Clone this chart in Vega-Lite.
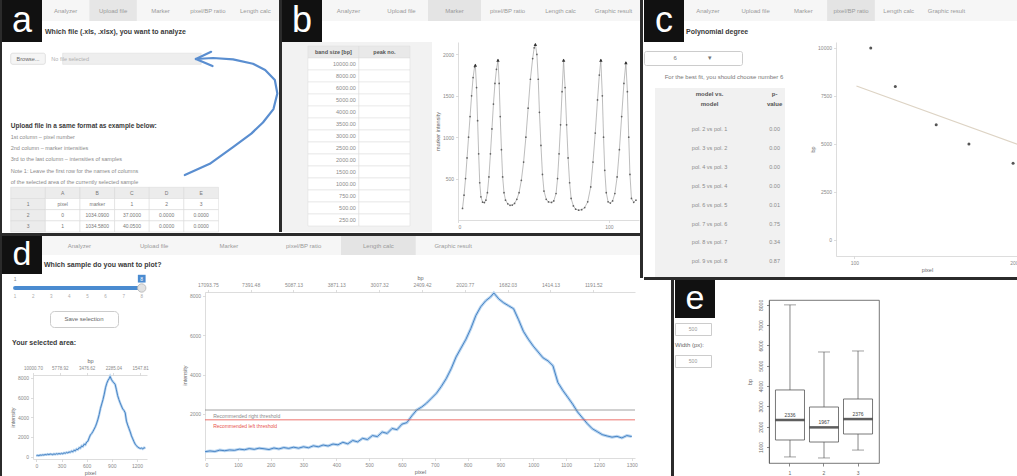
{
  "$schema": "https://vega.github.io/schema/vega-lite/v6.json",
  "background": "white",
  "padding": 0,
  "spacing": 0,
  "config": {
    "font": "Liberation Sans",
    "view": {"stroke": null},
    "concat": {"spacing": 0},
    "axis": {
      "labelFont": "Liberation Sans", "labelFontSize": 5, "labelColor": "#8a8a8a",
      "titleFont": "Liberation Sans", "titleFontSize": 5.5, "titleFontWeight": "normal", "titleColor": "#666666",
      "domainColor": "#cfcfcf", "tickColor": "#cfcfcf", "domainWidth": 0.7, "tickWidth": 0.7,
      "tickSize": 2.5, "labelPadding": 2, "titlePadding": 2, "grid": false, "labelOverlap": false
    },
    "text": {"font": "Liberation Sans"}
  },
  "datasets": {
    "tabs": [
      {"tab": "Analyzer", "i": 1}, {"tab": "Upload file", "i": 2}, {"tab": "Marker", "i": 3},
      {"tab": "pixel/BP ratio", "i": 4}, {"tab": "Length calc", "i": 5}, {"tab": "Graphic result", "i": 6}
    ],
    "uploadNotes": [
      {"row": 7, "kind": "head", "line": "Upload file in a same format as example below:"},
      {"row": 8, "kind": "body", "line": "1st column – pixel number"},
      {"row": 9, "kind": "body", "line": "2nd column – marker intensities"},
      {"row": 10, "kind": "body", "line": "3rd to the last column – intensities of samples"},
      {"row": 11, "kind": "body", "line": "Note 1: Leave the first row for the names of columns"},
      {"row": 12, "kind": "body", "line": "of the selected area of the currently selected sample"}
    ],
    "uploadTable": [
      {"row": 13, "n": "", "A": "A", "B": "B", "C": "C", "D": "D", "E": "E"},
      {"row": 14, "n": "1", "A": "pixel", "B": "marker", "C": "1", "D": "2", "E": "3"},
      {"row": 15, "n": "2", "A": "0", "B": "1034.0900", "C": "37.0000", "D": "0.0000", "E": "0.0000"},
      {"row": 16, "n": "3", "A": "1", "B": "1034.5800", "C": "40.0500", "D": "0.0000", "E": "0.0000"}
    ],
    "arrow": [
      {"seg": "curve", "k": 0, "u": 6.6, "v": 11.9}, {"seg": "curve", "k": 1, "u": 7.5, "v": 10.9},
      {"seg": "curve", "k": 2, "u": 8.34, "v": 9.4}, {"seg": "curve", "k": 3, "u": 9.0, "v": 8.2},
      {"seg": "curve", "k": 4, "u": 9.42, "v": 7.2}, {"seg": "curve", "k": 5, "u": 9.8, "v": 6.0},
      {"seg": "curve", "k": 6, "u": 9.94, "v": 4.6}, {"seg": "curve", "k": 7, "u": 9.85, "v": 3.4},
      {"seg": "curve", "k": 8, "u": 9.5, "v": 2.5}, {"seg": "curve", "k": 9, "u": 9.06, "v": 1.95},
      {"seg": "curve", "k": 10, "u": 8.34, "v": 1.55}, {"seg": "curve", "k": 11, "u": 7.62, "v": 1.43},
      {"seg": "curve", "k": 12, "u": 7.0, "v": 1.52},
      {"seg": "head1", "k": 0, "u": 7.0, "v": 1.52}, {"seg": "head1", "k": 1, "u": 7.55, "v": 0.88},
      {"seg": "head2", "k": 0, "u": 7.0, "v": 1.52}, {"seg": "head2", "k": 1, "u": 7.6, "v": 2.15}
    ],
    "ladder": [
      {"row": 0, "size": "band size [bp]", "peak": "peak no."},
      {"row": 1, "size": "10000.00", "peak": ""}, {"row": 2, "size": "8000.00", "peak": ""},
      {"row": 3, "size": "6000.00", "peak": ""}, {"row": 4, "size": "5000.00", "peak": ""},
      {"row": 5, "size": "4000.00", "peak": ""}, {"row": 6, "size": "3500.00", "peak": ""},
      {"row": 7, "size": "3000.00", "peak": ""}, {"row": 8, "size": "2500.00", "peak": ""},
      {"row": 9, "size": "2000.00", "peak": ""}, {"row": 10, "size": "1500.00", "peak": ""},
      {"row": 11, "size": "1000.00", "peak": ""}, {"row": 12, "size": "750.00", "peak": ""},
      {"row": 13, "size": "500.00", "peak": ""}, {"row": 14, "size": "250.00", "peak": ""}
    ],
    "markerTrace": [
      {"x": 3, "y": 140}, {"x": 4, "y": 300}, {"x": 5, "y": 500}, {"x": 6, "y": 750}, {"x": 7, "y": 1000},
      {"x": 8, "y": 1250}, {"x": 9, "y": 1500}, {"x": 10, "y": 1720}, {"x": 11, "y": 1850}, {"x": 11.5, "y": 1870},
      {"x": 12.3, "y": 1600}, {"x": 13, "y": 1200}, {"x": 13.7, "y": 800}, {"x": 14.4, "y": 450}, {"x": 15.2, "y": 280},
      {"x": 16.3, "y": 215}, {"x": 17.5, "y": 210}, {"x": 18.5, "y": 240}, {"x": 19.5, "y": 330}, {"x": 20.5, "y": 520},
      {"x": 21.5, "y": 800}, {"x": 22.5, "y": 1100}, {"x": 23.5, "y": 1400}, {"x": 24.5, "y": 1650}, {"x": 25.5, "y": 1820},
      {"x": 26.5, "y": 1930}, {"x": 27.3, "y": 1650}, {"x": 28, "y": 1250}, {"x": 28.8, "y": 850}, {"x": 29.6, "y": 520},
      {"x": 30.5, "y": 330}, {"x": 31.5, "y": 240}, {"x": 33, "y": 195}, {"x": 34.5, "y": 178}, {"x": 36, "y": 180},
      {"x": 37.5, "y": 200}, {"x": 39, "y": 250}, {"x": 40.5, "y": 330}, {"x": 42, "y": 480}, {"x": 43.5, "y": 700},
      {"x": 45, "y": 1000}, {"x": 46.5, "y": 1350}, {"x": 48, "y": 1700}, {"x": 49.5, "y": 1950}, {"x": 50.5, "y": 2080},
      {"x": 51.3, "y": 2120}, {"x": 52.3, "y": 2000}, {"x": 53.2, "y": 1700}, {"x": 54, "y": 1300}, {"x": 55, "y": 900},
      {"x": 56, "y": 550}, {"x": 57, "y": 350}, {"x": 58.5, "y": 250}, {"x": 60, "y": 218}, {"x": 62, "y": 212},
      {"x": 63.5, "y": 230}, {"x": 65, "y": 320}, {"x": 66, "y": 500}, {"x": 67, "y": 800}, {"x": 68, "y": 1150},
      {"x": 69, "y": 1550}, {"x": 70, "y": 1930}, {"x": 71, "y": 1600}, {"x": 72, "y": 1150}, {"x": 73, "y": 750},
      {"x": 74, "y": 450}, {"x": 75, "y": 260}, {"x": 76.5, "y": 170}, {"x": 78, "y": 130}, {"x": 80, "y": 118},
      {"x": 82, "y": 125}, {"x": 84, "y": 150}, {"x": 86, "y": 220}, {"x": 88, "y": 400}, {"x": 89.5, "y": 700},
      {"x": 91, "y": 1050}, {"x": 92.5, "y": 1450}, {"x": 93.7, "y": 1750}, {"x": 94.7, "y": 1930}, {"x": 95.7, "y": 1500},
      {"x": 96.5, "y": 1000}, {"x": 97.3, "y": 600}, {"x": 98.3, "y": 330}, {"x": 99.5, "y": 220}, {"x": 101, "y": 205},
      {"x": 102.5, "y": 230}, {"x": 104, "y": 320}, {"x": 105.5, "y": 520}, {"x": 107, "y": 850}, {"x": 108.5, "y": 1250},
      {"x": 110, "y": 1650}, {"x": 111.3, "y": 1900}, {"x": 112.3, "y": 1550}, {"x": 113.2, "y": 1000}, {"x": 114, "y": 550},
      {"x": 115, "y": 260}, {"x": 116.5, "y": 214}, {"x": 118, "y": 240}
    ],
    "peaksB": [
      {"x": 11.5, "y": 1870}, {"x": 26.5, "y": 1930}, {"x": 51.3, "y": 2120},
      {"x": 70, "y": 1930}, {"x": 94.7, "y": 1930}, {"x": 111.3, "y": 1900}
    ],
    "pvalues": [
      {"row": 0, "model": "model vs.\nmodel", "p": "p-\nvalue"},
      {"row": 2, "model": "pol. 2 vs pol. 1", "p": "0.00"},
      {"row": 3, "model": "pol. 3 vs pol. 2", "p": "0.00"},
      {"row": 4, "model": "pol. 4 vs pol. 3", "p": "0.00"},
      {"row": 5, "model": "pol. 5 vs pol. 4", "p": "0.00"},
      {"row": 6, "model": "pol. 6 vs pol. 5", "p": "0.01"},
      {"row": 7, "model": "pol. 7 vs pol. 6", "p": "0.75"},
      {"row": 8, "model": "pol. 8 vs pol. 7", "p": "0.34"},
      {"row": 9, "model": "pol. 9 vs pol. 8", "p": "0.87"}
    ],
    "calib": [
      {"pixel": 110, "bp": 10000}, {"pixel": 125, "bp": 8000}, {"pixel": 150, "bp": 6000},
      {"pixel": 170, "bp": 5000}, {"pixel": 197, "bp": 4000}
    ],
    "fit": [{"pixel": 101.25, "bp": 8020}, {"pixel": 200, "bp": 4973}],
    "profile": [
      {"pixel": 0, "intensity": 80}, {"pixel": 15, "intensity": 120}, {"pixel": 30, "intensity": 90},
      {"pixel": 45, "intensity": 160}, {"pixel": 60, "intensity": 130}, {"pixel": 75, "intensity": 170},
      {"pixel": 90, "intensity": 150}, {"pixel": 105, "intensity": 210}, {"pixel": 120, "intensity": 180},
      {"pixel": 135, "intensity": 240}, {"pixel": 150, "intensity": 200}, {"pixel": 165, "intensity": 260},
      {"pixel": 180, "intensity": 230}, {"pixel": 195, "intensity": 190}, {"pixel": 210, "intensity": 270},
      {"pixel": 225, "intensity": 220}, {"pixel": 240, "intensity": 290}, {"pixel": 255, "intensity": 250},
      {"pixel": 270, "intensity": 310}, {"pixel": 285, "intensity": 260}, {"pixel": 300, "intensity": 330},
      {"pixel": 315, "intensity": 280}, {"pixel": 330, "intensity": 380}, {"pixel": 345, "intensity": 330},
      {"pixel": 360, "intensity": 420}, {"pixel": 375, "intensity": 370}, {"pixel": 390, "intensity": 470},
      {"pixel": 405, "intensity": 430}, {"pixel": 420, "intensity": 560}, {"pixel": 435, "intensity": 480},
      {"pixel": 450, "intensity": 650}, {"pixel": 465, "intensity": 580}, {"pixel": 480, "intensity": 760},
      {"pixel": 495, "intensity": 700}, {"pixel": 510, "intensity": 900}, {"pixel": 525, "intensity": 850},
      {"pixel": 540, "intensity": 1080}, {"pixel": 555, "intensity": 1010}, {"pixel": 570, "intensity": 1260},
      {"pixel": 585, "intensity": 1200}, {"pixel": 600, "intensity": 1480}, {"pixel": 615, "intensity": 1560},
      {"pixel": 630, "intensity": 1900}, {"pixel": 645, "intensity": 2200}, {"pixel": 660, "intensity": 2350},
      {"pixel": 675, "intensity": 2550}, {"pixel": 690, "intensity": 2800}, {"pixel": 705, "intensity": 3050},
      {"pixel": 720, "intensity": 3400}, {"pixel": 735, "intensity": 3800}, {"pixel": 750, "intensity": 4300},
      {"pixel": 765, "intensity": 4900}, {"pixel": 780, "intensity": 5350}, {"pixel": 795, "intensity": 5800},
      {"pixel": 810, "intensity": 6350}, {"pixel": 825, "intensity": 7000}, {"pixel": 840, "intensity": 7450},
      {"pixel": 855, "intensity": 7750}, {"pixel": 870, "intensity": 7950}, {"pixel": 880, "intensity": 8150},
      {"pixel": 895, "intensity": 7850}, {"pixel": 910, "intensity": 7650}, {"pixel": 925, "intensity": 7500},
      {"pixel": 940, "intensity": 7350}, {"pixel": 955, "intensity": 6800}, {"pixel": 970, "intensity": 6200},
      {"pixel": 985, "intensity": 5800}, {"pixel": 1000, "intensity": 5450}, {"pixel": 1015, "intensity": 5150},
      {"pixel": 1030, "intensity": 4850}, {"pixel": 1045, "intensity": 4700}, {"pixel": 1060, "intensity": 4450},
      {"pixel": 1075, "intensity": 3600}, {"pixel": 1090, "intensity": 3200}, {"pixel": 1105, "intensity": 2850},
      {"pixel": 1120, "intensity": 2500}, {"pixel": 1135, "intensity": 2100}, {"pixel": 1150, "intensity": 1800},
      {"pixel": 1165, "intensity": 1500}, {"pixel": 1180, "intensity": 1250}, {"pixel": 1195, "intensity": 1100},
      {"pixel": 1210, "intensity": 950}, {"pixel": 1225, "intensity": 880}, {"pixel": 1240, "intensity": 820},
      {"pixel": 1255, "intensity": 860}, {"pixel": 1270, "intensity": 780}, {"pixel": 1285, "intensity": 900},
      {"pixel": 1300, "intensity": 850}
    ],
    "thresholds": [
      {"side": "right", "value": 2200, "label": "Recommended right threshold"},
      {"side": "left", "value": 1700, "label": "Recommended left threshold"}
    ],
    "bpTop": [
      {"bp": "17093.75"}, {"bp": "7391.48"}, {"bp": "5087.13"}, {"bp": "3871.13"}, {"bp": "3007.32"},
      {"bp": "2409.42"}, {"bp": "2020.77"}, {"bp": "1682.03"}, {"bp": "1414.13"}, {"bp": "1191.52"}
    ],
    "bpTopSmall": [
      {"bp": "10000.70"}, {"bp": "5778.92"}, {"bp": "3476.62"}, {"bp": "2285.04"}, {"bp": "1547.81"}
    ],
    "slider": [{"min": 1, "max": 8, "value": 8}],
    "samples": [
      {"sample": 1}, {"sample": 2}, {"sample": 3}, {"sample": 4},
      {"sample": 5}, {"sample": 6}, {"sample": 7}, {"sample": 8}
    ],
    "boxes": [
      {"group": "1", "min": 510, "q1": 1345, "median": 2336, "q3": 3810, "max": 8000},
      {"group": "2", "min": 460, "q1": 1245, "median": 1967, "q3": 2970, "max": 5680},
      {"group": "3", "min": 850, "q1": 1640, "median": 2376, "q3": 3365, "max": 5730}
    ]
  },
  "hconcat": [
    {"width": 2, "height": 476, "view": {"fill": "#2b2b2b", "stroke": null}, "data": {"values": []}, "mark": "point"},
    {
      "vconcat": [
        {
          "hconcat": [
            {
              "vconcat": [
                {
                  "hconcat": [
                    {"width": 40, "height": 42, "view": {"fill": "#111111", "stroke": null}, "data": {"values": [{"panel": "a"}]},
                     "mark": {"type": "text", "fontSize": 36, "fill": "white", "baseline": "middle"}, "encoding": {"text": {"field": "panel"}}},
                    {
                      "width": 237, "height": 42,
                      "layer": [
                        {"data": {"values": [{"bar": "tabs"}]}, "mark": {"type": "rect", "fill": "#f6f6f6"},
                         "encoding": {"y": {"field": "bar", "type": "nominal", "scale": {"domain": ["tabs", "title"], "paddingInner": 0, "paddingOuter": 0}, "axis": null}}},
                        {"data": {"name": "tabs"}, "transform": [{"filter": "datum.tab == 'Upload file'"}], "mark": {"type": "rect", "fill": "#e6e6e6"},
                         "encoding": {"x": {"field": "tab", "type": "nominal", "scale": {"domain": ["Analyzer", "Upload file", "Marker", "pixel/BP ratio", "Length calc"], "paddingInner": 0, "paddingOuter": 0}, "axis": null},
                                      "y": {"datum": "tabs", "type": "nominal"}}},
                        {"data": {"name": "tabs"}, "transform": [{"filter": "datum.i <= 5"}], "mark": {"type": "text", "fontSize": 6, "fill": "#9a9a9a"},
                         "encoding": {"x": {"field": "tab", "type": "nominal"}, "y": {"datum": "tabs", "type": "nominal"}, "text": {"field": "tab"}}},
                        {"data": {"values": [{"title": "Which file (.xls, .xlsx), you want to analyze"}]},
                         "mark": {"type": "text", "align": "left", "fontSize": 7, "fontWeight": "bold", "fill": "#3a3a3a", "dx": 3},
                         "encoding": {"x": {"datum": "Analyzer", "type": "nominal", "bandPosition": 0}, "y": {"datum": "title", "type": "nominal"}, "text": {"field": "title"}}}
                      ]
                    }
                  ],
                  "spacing": 0
                },
                {
                  "width": 277, "height": 190,
                  "layer": [
                    {
                      "layer": [
                        {"data": {"values": [{"label": "Browse..."}]}, "mark": {"type": "rect", "fill": "#f5f5f5", "stroke": "#cfcfcf", "strokeWidth": 0.6, "cornerRadius": 2},
                         "encoding": {"x": {"datum": "n", "type": "nominal", "scale": {"domain": ["n", "A", "B", "C", "D", "E"], "paddingInner": 0, "paddingOuter": 1.78, "align": 0.126}, "axis": null},
                                      "y": {"datum": 1, "type": "ordinal", "scale": {"domain": [0, 1, 2, 3, 4, 5, 6, 7, 8, 9, 10, 11, 12, 13, 14, 15, 16], "paddingInner": 0, "paddingOuter": 0}, "axis": null}}},
                        {"data": {"values": [{"label": "Browse..."}]}, "mark": {"type": "text", "fontSize": 5.5, "fill": "#666666"},
                         "encoding": {"x": {"datum": "n", "type": "nominal"}, "y": {"datum": 1, "type": "ordinal"}, "text": {"field": "label"}}},
                        {"data": {"values": [{"label": "No file selected"}]}, "mark": {"type": "rect", "fill": "#eeeeee", "stroke": "#dddddd", "strokeWidth": 0.6},
                         "encoding": {"x": {"datum": "A", "type": "nominal"}, "x2": {"datum": "E"}, "y": {"datum": 1, "type": "ordinal"}}},
                        {"data": {"values": [{"label": "No file selected"}]}, "mark": {"type": "text", "align": "left", "fontSize": 5.5, "fill": "#b0b0b0", "dx": 6},
                         "encoding": {"x": {"datum": "A", "type": "nominal", "bandPosition": 0}, "y": {"datum": 1, "type": "ordinal"}, "text": {"field": "label"}}},
                        {"data": {"name": "uploadNotes"}, "transform": [{"filter": "datum.kind == 'head'"}],
                         "mark": {"type": "text", "align": "left", "fontSize": 6.5, "fontWeight": "bold", "fill": "#3a3a3a"},
                         "encoding": {"x": {"datum": "n", "type": "nominal", "bandPosition": 0}, "y": {"field": "row", "type": "ordinal"}, "text": {"field": "line"}}},
                        {"data": {"name": "uploadNotes"}, "transform": [{"filter": "datum.kind == 'body'"}],
                         "mark": {"type": "text", "align": "left", "fontSize": 5.5, "fill": "#8a8a8a"},
                         "encoding": {"x": {"datum": "n", "type": "nominal", "bandPosition": 0}, "y": {"field": "row", "type": "ordinal"}, "text": {"field": "line"}}},
                        {"data": {"name": "uploadTable"}, "transform": [{"fold": ["n", "A", "B", "C", "D", "E"], "as": ["col", "v"]}],
                         "mark": {"type": "rect", "stroke": "#d6d6d6", "strokeWidth": 0.5},
                         "encoding": {"x": {"field": "col", "type": "nominal"}, "y": {"field": "row", "type": "ordinal"},
                                      "fill": {"condition": {"test": "datum.row == 13 || datum.col == 'n'", "value": "#ececec"}, "value": "#ffffff"}}},
                        {"data": {"name": "uploadTable"}, "transform": [{"fold": ["n", "A", "B", "C", "D", "E"], "as": ["col", "v"]}],
                         "mark": {"type": "text", "fontSize": 5, "fill": "#777777"},
                         "encoding": {"x": {"field": "col", "type": "nominal"}, "y": {"field": "row", "type": "ordinal"}, "text": {"field": "v"}}}
                      ]
                    },
                    {
                      "data": {"name": "arrow"},
                      "mark": {"type": "line", "color": "#5a8ed0", "strokeWidth": 2.2, "strokeCap": "round", "strokeJoin": "round"},
                      "encoding": {
                        "x": {"field": "u", "type": "quantitative", "scale": {"domain": [0, 10], "nice": false, "zero": false}, "axis": null},
                        "y": {"field": "v", "type": "quantitative", "scale": {"domain": [0, 17], "nice": false, "reverse": true}, "axis": null},
                        "detail": {"field": "seg"},
                        "order": {"field": "k"}
                      }
                    }
                  ],
                  "resolve": {"scale": {"x": "independent", "y": "independent"}}
                }
              ],
              "spacing": 0
            },
            {"width": 3, "height": 232, "view": {"fill": "#2b2b2b", "stroke": null}, "data": {"values": []}, "mark": "point"},
            {
              "vconcat": [
                {
                  "hconcat": [
                    {"width": 40, "height": 42, "view": {"fill": "#111111", "stroke": null}, "data": {"values": [{"panel": "b"}]},
                     "mark": {"type": "text", "fontSize": 36, "fill": "white", "baseline": "middle"}, "encoding": {"text": {"field": "panel"}}},
                    {
                      "width": 318, "height": 42,
                      "layer": [
                        {"data": {"values": [{"bar": "tabs"}]}, "mark": {"type": "rect", "fill": "#f6f6f6"},
                         "encoding": {"y": {"field": "bar", "type": "nominal", "scale": {"domain": ["tabs", "title"], "paddingInner": 0, "paddingOuter": 0}, "axis": null}}},
                        {"data": {"name": "tabs"}, "transform": [{"filter": "datum.tab == 'Marker'"}], "mark": {"type": "rect", "fill": "#e4e4e4"},
                         "encoding": {"x": {"field": "tab", "type": "nominal", "scale": {"domain": ["Analyzer", "Upload file", "Marker", "pixel/BP ratio", "Length calc", "Graphic result"], "paddingInner": 0, "paddingOuter": 0}, "axis": null},
                                      "y": {"datum": "tabs", "type": "nominal"}}},
                        {"data": {"name": "tabs"}, "mark": {"type": "text", "fontSize": 6, "fill": "#9a9a9a"},
                         "encoding": {"x": {"field": "tab", "type": "nominal"}, "y": {"datum": "tabs", "type": "nominal"}, "text": {"field": "tab"}}}
                      ]
                    }
                  ],
                  "spacing": 0
                },
                {
                  "hconcat": [
                    {
                      "width": 150, "height": 190,
                      "view": {"fill": "#f2f2f2", "stroke": null},
                      "data": {"name": "ladder"},
                      "transform": [{"fold": ["size", "peak"], "as": ["col", "value"]}],
                      "encoding": {
                        "x": {"field": "col", "type": "nominal", "scale": {"domain": ["size", "peak"], "paddingInner": 0, "paddingOuter": 0.47, "align": 0.54}, "axis": null},
                        "y": {"field": "row", "type": "ordinal", "scale": {"domain": [0, 1, 2, 3, 4, 5, 6, 7, 8, 9, 10, 11, 12, 13, 14], "paddingInner": 0, "paddingOuter": 0.4167, "align": 0.4}, "axis": null}
                      },
                      "layer": [
                        {"mark": {"type": "rect", "stroke": "#dcdcdc", "strokeWidth": 0.5},
                         "encoding": {"fill": {"condition": {"test": "datum.row == 0", "value": "#e9e9e9"}, "value": "#ffffff"}}},
                        {"transform": [{"filter": "datum.row == 0"}], "mark": {"type": "text", "fontSize": 5.5, "fontWeight": "bold", "fill": "#555555"},
                         "encoding": {"text": {"field": "value"}}},
                        {"transform": [{"filter": "datum.row > 0 && datum.col == 'size'"}], "mark": {"type": "text", "align": "right", "fontSize": 5.5, "fill": "#8a8a8a", "dx": -3},
                         "encoding": {"x": {"field": "col", "type": "nominal", "bandPosition": 1}, "text": {"field": "value"}}}
                      ]
                    },
                    {
                      "width": 181, "height": 178,
                      "layer": [
                        {"data": {"name": "markerTrace"}, "mark": {"type": "line", "color": "#a0a0a0", "strokeWidth": 0.7},
                         "encoding": {
                           "x": {"field": "x", "type": "quantitative", "scale": {"domain": [0, 120], "nice": false}, "axis": {"values": [0, 100], "tickCount": 20, "title": null, "format": "d"}},
                           "y": {"field": "y", "type": "quantitative", "scale": {"domain": [0, 2150], "nice": false}, "axis": {"values": [500, 1000, 1500, 2000], "tickCount": 20, "title": "marker intensity", "format": "d"}}}},
                        {"data": {"name": "markerTrace"}, "mark": {"type": "point", "filled": true, "size": 3, "color": "#555555", "opacity": 0.9},
                         "encoding": {"x": {"field": "x", "type": "quantitative"}, "y": {"field": "y", "type": "quantitative"}}},
                        {"data": {"name": "peaksB"}, "mark": {"type": "point", "shape": "triangle-up", "filled": true, "size": 12, "color": "#333333", "opacity": 1},
                         "encoding": {"x": {"field": "x", "type": "quantitative"}, "y": {"field": "y", "type": "quantitative"}}}
                      ]
                    }
                  ],
                  "spacing": 3
                }
              ],
              "spacing": 0
            }
          ],
          "spacing": 0
        },
        {"width": 638, "height": 3, "view": {"fill": "#2b2b2b", "stroke": null}, "data": {"values": []}, "mark": "point"},
        {
          "vconcat": [
            {
              "hconcat": [
                {"width": 40, "height": 38, "view": {"fill": "#111111", "stroke": null}, "data": {"values": [{"panel": "d"}]},
                 "mark": {"type": "text", "fontSize": 34, "fill": "white", "baseline": "middle"}, "encoding": {"text": {"field": "panel"}}},
                {
                  "width": 598, "height": 38,
                  "layer": [
                    {"data": {"values": [{"bar": "tabs"}]}, "mark": {"type": "rect", "fill": "#f6f6f6"},
                     "encoding": {"y": {"field": "bar", "type": "nominal", "scale": {"domain": ["tabs", "title"], "paddingInner": 0, "paddingOuter": 0}, "axis": null}}},
                    {"data": {"name": "tabs"}, "transform": [{"filter": "datum.tab == 'Length calc'"}], "mark": {"type": "rect", "fill": "#e4e4e4"},
                     "encoding": {"x": {"field": "tab", "type": "nominal", "scale": {"domain": ["Analyzer", "Upload file", "Marker", "pixel/BP ratio", "Length calc", "Graphic result"], "paddingInner": 0, "paddingOuter": 2.75, "align": 0}, "axis": null},
                                  "y": {"datum": "tabs", "type": "nominal"}}},
                    {"data": {"name": "tabs"}, "mark": {"type": "text", "fontSize": 6, "fill": "#9a9a9a"},
                     "encoding": {"x": {"field": "tab", "type": "nominal"}, "y": {"datum": "tabs", "type": "nominal"}, "text": {"field": "tab"}}},
                    {"data": {"values": [{"title": "Which sample do you want to plot?"}]},
                     "mark": {"type": "text", "align": "left", "fontSize": 7, "fontWeight": "bold", "fill": "#3a3a3a", "dx": 2},
                     "encoding": {"x": {"datum": "Analyzer", "type": "nominal", "bandPosition": 0}, "y": {"datum": "title", "type": "nominal"}, "text": {"field": "title"}}}
                  ]
                }
              ],
              "spacing": 0
            },
            {
              "hconcat": [
                {
                  "vconcat": [
                    {
                      "width": 160, "height": 28,
                      "layer": [
                        {"data": {"name": "slider"}, "mark": {"type": "rule", "color": "#4a8bd0", "strokeWidth": 4, "strokeCap": "round"},
                         "encoding": {"x": {"field": "min", "type": "quantitative", "scale": {"domain": [0.28, 9.12], "nice": false, "zero": false}, "axis": null}, "x2": {"field": "max"},
                                      "y": {"datum": "track", "type": "nominal", "scale": {"domain": ["val", "track", "tick"], "paddingInner": 0, "paddingOuter": 0}, "axis": null}}},
                        {"data": {"name": "slider"}, "mark": {"type": "point", "filled": true, "size": 70, "fill": "#e2e2e2", "stroke": "#b5b5b5", "strokeWidth": 0.8, "opacity": 1},
                         "encoding": {"x": {"field": "value", "type": "quantitative"}, "y": {"datum": "track", "type": "nominal"}}},
                        {"data": {"name": "slider"}, "mark": {"type": "square", "size": 60, "color": "#4a8bd0", "opacity": 1},
                         "encoding": {"x": {"field": "value", "type": "quantitative"}, "y": {"datum": "val", "type": "nominal"}}},
                        {"data": {"name": "slider"}, "mark": {"type": "text", "fontSize": 5, "fill": "white"},
                         "encoding": {"x": {"field": "value", "type": "quantitative"}, "y": {"datum": "val", "type": "nominal"}, "text": {"field": "value"}}},
                        {"data": {"name": "slider"}, "mark": {"type": "text", "fontSize": 5, "fill": "#888888"},
                         "encoding": {"x": {"field": "min", "type": "quantitative"}, "y": {"datum": "val", "type": "nominal"}, "text": {"field": "min"}}},
                        {"data": {"name": "samples"}, "mark": {"type": "text", "fontSize": 4.5, "fill": "#aaaaaa"},
                         "encoding": {"x": {"field": "sample", "type": "quantitative"}, "y": {"datum": "tick", "type": "nominal"}, "text": {"field": "sample"}}}
                      ]
                    },
                    {
                      "hconcat": [
                        {"width": 1, "height": 1, "data": {"values": []}, "mark": "point"},
                        {"width": 68, "height": 16, "view": {"fill": "white", "stroke": "#cccccc", "cornerRadius": 4},
                         "data": {"values": [{"label": "Save selection"}]},
                         "mark": {"type": "text", "fontSize": 6, "fill": "#666666"}, "encoding": {"text": {"field": "label"}}}
                      ],
                      "spacing": 46
                    },
                    {"width": 160, "height": 14, "data": {"values": [{"label": "Your selected area:"}]},
                     "mark": {"type": "text", "align": "left", "fontSize": 7, "fontWeight": "bold", "fill": "#3a3a3a", "dx": 10},
                     "encoding": {"x": {"datum": 0, "type": "quantitative", "scale": {"domain": [0, 16]}, "axis": null}, "text": {"field": "label"}}},
                    {
                      "hconcat": [
                        {"width": 1, "height": 1, "data": {"values": []}, "mark": "point"},
                        {
                          "width": 114, "height": 84,
                          "layer": [
                            {
                              "layer": [
                                {"data": {"name": "profile"}, "mark": {"type": "line", "color": "#b9d5f0", "strokeWidth": 2.5},
                                 "encoding": {
                                   "x": {"field": "pixel", "type": "quantitative", "scale": {"domain": [-40, 1320], "nice": false, "zero": false}, "axis": {"values": [0, 300, 600, 900, 1200], "tickCount": 20, "title": "pixel", "format": "d"}},
                                   "y": {"field": "intensity", "type": "quantitative", "scale": {"domain": [-250, 8300], "nice": false, "zero": false}, "axis": {"values": [0, 2000, 4000, 6000, 8000], "tickCount": 20, "title": "intensity", "format": "d"}}}},
                                {"data": {"name": "profile"}, "mark": {"type": "line", "color": "#3b7bbf", "strokeWidth": 0.9},
                                 "encoding": {"x": {"field": "pixel", "type": "quantitative"}, "y": {"field": "intensity", "type": "quantitative"}}}
                              ]
                            },
                            {"data": {"name": "bpTopSmall"}, "mark": {"type": "point", "opacity": 0},
                             "encoding": {"x": {"field": "bp", "type": "ordinal", "sort": null, "scale": {"type": "point", "padding": 0.13, "align": 0},
                                                "axis": {"orient": "top", "title": "bp", "labelFontSize": 4.5, "labelAngle": 0}}}}
                          ],
                          "resolve": {"scale": {"x": "independent"}}
                        }
                      ],
                      "spacing": 7
                    }
                  ],
                  "spacing": 8
                },
                {
                  "vconcat": [
                    {"width": 430, "height": 1, "data": {"values": []}, "mark": "point"},
                    {
                      "width": 430, "height": 166,
                      "layer": [
                        {
                          "layer": [
                            {"data": {"name": "profile"}, "mark": {"type": "line", "color": "#b9d5f0", "strokeWidth": 3},
                             "encoding": {
                               "x": {"field": "pixel", "type": "quantitative", "scale": {"domain": [0, 1310], "nice": false}, "axis": {"values": [0, 100, 200, 300, 400, 500, 600, 700, 800, 900, 1000, 1100, 1200, 1300], "tickCount": 30, "title": "pixel", "format": "d"}},
                               "y": {"field": "intensity", "type": "quantitative", "scale": {"domain": [-240, 8200], "nice": false, "zero": false}, "axis": {"values": [2000, 4000, 6000, 8000], "tickCount": 20, "title": "intensity", "format": "d"}}}},
                            {"data": {"name": "profile"}, "mark": {"type": "line", "color": "#3b7bbf", "strokeWidth": 0.9},
                             "encoding": {"x": {"field": "pixel", "type": "quantitative"}, "y": {"field": "intensity", "type": "quantitative"}}},
                            {"data": {"name": "thresholds"}, "mark": {"type": "rule", "strokeWidth": 0.8},
                             "encoding": {"y": {"field": "value", "type": "quantitative"},
                                          "color": {"field": "side", "type": "nominal", "scale": {"domain": ["right", "left"], "range": ["#8a8a8a", "#e8534b"]}, "legend": null}}},
                            {"data": {"name": "thresholds"}, "mark": {"type": "text", "align": "left", "fontSize": 5, "dy": 6},
                             "encoding": {"x": {"datum": 25, "type": "quantitative"}, "y": {"field": "value", "type": "quantitative"}, "text": {"field": "label"},
                                          "color": {"field": "side", "type": "nominal", "legend": null}}}
                          ]
                        },
                        {"data": {"name": "bpTop"}, "mark": {"type": "point", "opacity": 0},
                         "encoding": {"x": {"field": "bp", "type": "ordinal", "sort": null, "scale": {"type": "point", "padding": 0.52, "align": 0.063},
                                            "axis": {"orient": "top", "title": "bp", "labelAngle": 0}}}}
                      ],
                      "resolve": {"scale": {"x": "independent"}}
                    }
                  ],
                  "spacing": 0
                }
              ],
              "spacing": 20
            }
          ],
          "spacing": 0
        }
      ],
      "spacing": 0
    },
    {"width": 3, "height": 278, "view": {"fill": "#2b2b2b", "stroke": null}, "data": {"values": []}, "mark": "point"},
    {
      "vconcat": [
        {
          "vconcat": [
            {
              "hconcat": [
                {"width": 40, "height": 42, "view": {"fill": "#111111", "stroke": null}, "data": {"values": [{"panel": "c"}]},
                 "mark": {"type": "text", "fontSize": 36, "fill": "white", "baseline": "middle"}, "encoding": {"text": {"field": "panel"}}},
                {
                  "width": 334, "height": 42,
                  "layer": [
                    {"data": {"values": [{"bar": "tabs"}]}, "mark": {"type": "rect", "fill": "#f6f6f6"},
                     "encoding": {"y": {"field": "bar", "type": "nominal", "scale": {"domain": ["tabs", "title"], "paddingInner": 0, "paddingOuter": 0}, "axis": null}}},
                    {"data": {"name": "tabs"}, "transform": [{"filter": "datum.tab == 'pixel/BP ratio'"}], "mark": {"type": "rect", "fill": "#e4e4e4"},
                     "encoding": {"x": {"field": "tab", "type": "nominal", "scale": {"domain": ["Analyzer", "Upload file", "Marker", "pixel/BP ratio", "Length calc", "Graphic result"], "paddingInner": 0, "paddingOuter": 0.5, "align": 0}, "axis": null},
                                  "y": {"datum": "tabs", "type": "nominal"}}},
                    {"data": {"name": "tabs"}, "mark": {"type": "text", "fontSize": 6, "fill": "#9a9a9a"},
                     "encoding": {"x": {"field": "tab", "type": "nominal"}, "y": {"datum": "tabs", "type": "nominal"}, "text": {"field": "tab"}}},
                    {"data": {"values": [{"title": "Polynomial degree"}]},
                     "mark": {"type": "text", "align": "left", "fontSize": 7, "fontWeight": "bold", "fill": "#3a3a3a", "dx": 2},
                     "encoding": {"x": {"datum": "Analyzer", "type": "nominal", "bandPosition": 0}, "y": {"datum": "title", "type": "nominal"}, "text": {"field": "title"}}}
                  ]
                }
              ],
              "spacing": 0
            },
            {
              "hconcat": [
                {
                  "vconcat": [
                    {"width": 160, "height": 1, "data": {"values": []}, "mark": "point"},
                    {
                      "width": 98, "height": 14, "view": {"fill": "white", "stroke": "#cccccc", "cornerRadius": 2},
                      "data": {"values": [{"value": "6", "caret": "▾"}]},
                      "layer": [
                        {"mark": {"type": "text", "align": "left", "fontSize": 6, "fill": "#777777", "dx": 5},
                         "encoding": {"x": {"datum": "value", "type": "nominal", "bandPosition": 0, "scale": {"domain": ["value", "caret"], "paddingInner": 0, "paddingOuter": 0}, "axis": null}, "text": {"field": "value"}}},
                        {"mark": {"type": "text", "align": "right", "fontSize": 7, "fill": "#777777", "dx": -6},
                         "encoding": {"x": {"datum": "caret", "type": "nominal", "bandPosition": 1}, "text": {"field": "caret"}}}
                      ]
                    },
                    {"width": 160, "height": 8, "data": {"values": [{"hint": "For the best fit, you should choose number 6"}]},
                     "mark": {"type": "text", "fontSize": 6, "fill": "#777777"}, "encoding": {"text": {"field": "hint"}}},
                    {
                      "hconcat": [
                        {"width": 1, "height": 1, "data": {"values": []}, "mark": "point"},
                        {
                          "width": 130, "height": 189,
                          "view": {"fill": "#f1f1f1", "stroke": null},
                          "data": {"name": "pvalues"},
                          "encoding": {
                            "y": {"field": "row", "type": "ordinal", "scale": {"domain": [0, 1, 2, 3, 4, 5, 6, 7, 8, 9], "paddingInner": 0, "paddingOuter": 0.87, "align": 0.17}, "axis": null}
                          },
                          "layer": [
                            {"transform": [{"filter": "datum.row > 0"}], "mark": {"type": "text", "fontSize": 5.5, "fill": "#8a8a8a"},
                             "encoding": {"x": {"datum": "model", "type": "nominal", "scale": {"domain": ["model", "p"], "paddingInner": 0, "paddingOuter": 0.14, "align": 0.84}, "axis": null}, "text": {"field": "model"}}},
                            {"transform": [{"filter": "datum.row > 0"}], "mark": {"type": "text", "fontSize": 5.5, "fill": "#8a8a8a"},
                             "encoding": {"x": {"datum": "p", "type": "nominal"}, "text": {"field": "p"}}},
                            {"transform": [{"filter": "datum.row == 0"}], "mark": {"type": "text", "fontSize": 6, "fontWeight": "bold", "fill": "#555555", "lineBreak": "\n", "lineHeight": 10, "dy": 3},
                             "encoding": {"x": {"datum": "model", "type": "nominal"}, "text": {"field": "model"}}},
                            {"transform": [{"filter": "datum.row == 0"}], "mark": {"type": "text", "fontSize": 6, "fontWeight": "bold", "fill": "#555555", "lineBreak": "\n", "lineHeight": 10, "dy": 3},
                             "encoding": {"x": {"datum": "p", "type": "nominal"}, "text": {"field": "p"}}}
                          ]
                        }
                      ],
                      "spacing": 10
                    }
                  ],
                  "spacing": 7
                },
                {
                  "width": 182, "height": 214,
                  "layer": [
                    {"data": {"name": "fit"}, "mark": {"type": "line", "color": "#ddd3c4", "strokeWidth": 1.2},
                     "encoding": {
                       "x": {"field": "pixel", "type": "quantitative", "scale": {"domain": [88.75, 200], "nice": false, "zero": false}, "axis": {"values": [100, 200], "tickCount": 20, "title": "pixel", "labelFlush": true, "format": "d"}},
                       "y": {"field": "bp", "type": "quantitative", "scale": {"domain": [-834, 10312], "nice": false, "zero": false}, "axis": {"values": [0, 2500, 5000, 7500, 10000], "tickCount": 20, "title": "bp", "format": "d"}}}},
                    {"data": {"name": "calib"}, "mark": {"type": "point", "filled": true, "size": 9, "color": "#555555", "opacity": 1},
                     "encoding": {"x": {"field": "pixel", "type": "quantitative"}, "y": {"field": "bp", "type": "quantitative"}}}
                  ]
                }
              ],
              "spacing": 6
            }
          ],
          "spacing": 0
        },
        {"width": 374, "height": 3, "view": {"fill": "#2b2b2b", "stroke": null}, "data": {"values": []}, "mark": "point"},
        {
          "hconcat": [
            {"width": 27, "height": 198, "data": {"values": []}, "mark": "point"},
            {"width": 3, "height": 198, "view": {"fill": "#2b2b2b", "stroke": null}, "data": {"values": []}, "mark": "point"},
            {
              "hconcat": [
                {
                  "vconcat": [
                    {"width": 40, "height": 38, "view": {"fill": "#111111", "stroke": null}, "data": {"values": [{"panel": "e"}]},
                     "mark": {"type": "text", "fontSize": 34, "fill": "white", "baseline": "middle"}, "encoding": {"text": {"field": "panel"}}},
                    {"width": 36, "height": 12, "view": {"fill": "white", "stroke": "#cccccc"}, "data": {"values": [{"v": "500"}]},
                     "mark": {"type": "text", "fontSize": 5, "fill": "#999999"}, "encoding": {"text": {"field": "v"}}},
                    {"width": 60, "height": 10, "data": {"values": [{"label": "Width (px):"}]},
                     "mark": {"type": "text", "align": "left", "fontSize": 6, "fill": "#666666"},
                     "encoding": {"x": {"datum": 0, "type": "quantitative", "scale": {"domain": [0, 10]}, "axis": null}, "text": {"field": "label"}}},
                    {"width": 36, "height": 12, "view": {"fill": "white", "stroke": "#cccccc"}, "data": {"values": [{"v": "500"}]},
                     "mark": {"type": "text", "fontSize": 5, "fill": "#999999"}, "encoding": {"text": {"field": "v"}}}
                  ],
                  "spacing": 4
                },
                {
                  "vconcat": [
                    {"width": 110, "height": 1, "data": {"values": []}, "mark": "point"},
                    {
                      "width": 110, "height": 163,
                      "view": {"stroke": "#555555", "strokeWidth": 0.8},
                      "data": {"name": "boxes"},
                      "encoding": {
                        "x": {"field": "group", "type": "nominal", "scale": {"paddingInner": 0.147, "paddingOuter": 0.19},
                              "axis": {"title": null, "labelAngle": 0, "domain": false, "tickColor": "#555555", "labelColor": "#666666", "labelPadding": 4, "tickSize": 3}}
                      },
                      "layer": [
                        {"mark": {"type": "rule", "color": "#555555", "strokeWidth": 0.7},
                         "encoding": {"y": {"field": "min", "type": "quantitative", "scale": {"domain": [212, 8241], "nice": false, "zero": false},
                                            "axis": {"values": [1000, 2000, 3000, 4000, 5000, 6000, 7000, 8000], "tickCount": 20, "format": "d", "labelAngle": -90, "title": "bp", "domainColor": "#555555", "tickColor": "#555555", "labelColor": "#666666", "titlePadding": 6, "labelPadding": 3}},
                                      "y2": {"field": "max"}}},
                        {"mark": {"type": "tick", "color": "#555555", "thickness": 0.8, "size": 12},
                         "encoding": {"y": {"field": "min", "type": "quantitative"}}},
                        {"mark": {"type": "tick", "color": "#555555", "thickness": 0.8, "size": 12},
                         "encoding": {"y": {"field": "max", "type": "quantitative"}}},
                        {"mark": {"type": "bar", "fill": "white", "stroke": "#555555", "strokeWidth": 0.8},
                         "encoding": {"y": {"field": "q1", "type": "quantitative"}, "y2": {"field": "q3"}}},
                        {"mark": {"type": "tick", "color": "#1a1a1a", "thickness": 2.5, "size": 29},
                         "encoding": {"y": {"field": "median", "type": "quantitative"}}},
                        {"mark": {"type": "text", "fontSize": 5, "fill": "#444444", "dy": -5},
                         "encoding": {"y": {"field": "median", "type": "quantitative"}, "text": {"field": "median"}}}
                      ]
                    }
                  ],
                  "spacing": 17
                }
              ],
              "spacing": 12
            }
          ],
          "spacing": 0
        }
      ],
      "spacing": 0
    }
  ]
}
